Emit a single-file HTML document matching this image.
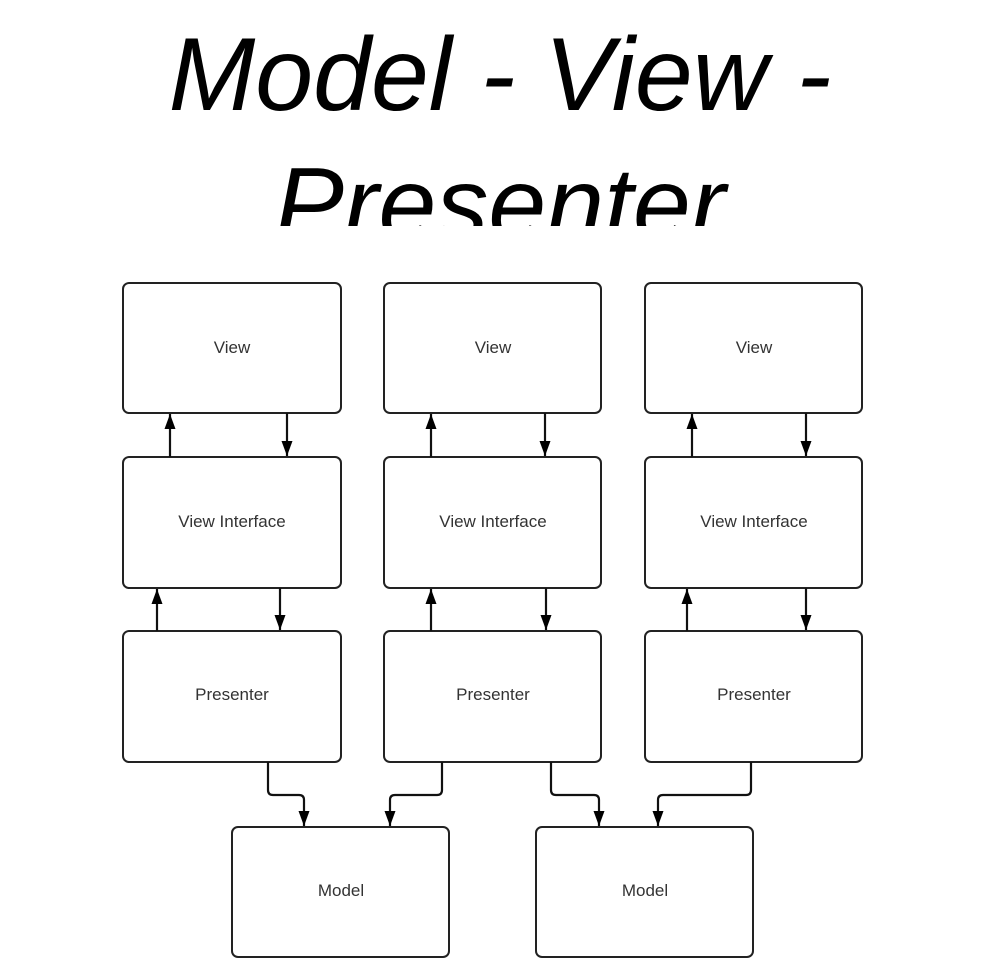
<!DOCTYPE html>
<html><head><meta charset="utf-8"><style>
html,body{margin:0;padding:0;background:#fff;width:1000px;height:974px;overflow:hidden}
.t{position:absolute;left:0;width:1000px;text-align:center;font-family:"Liberation Sans",sans-serif;font-style:italic;font-size:104px;line-height:130px;color:#000}
</style></head><body>
<div style="position:absolute;left:0;top:0;width:1000px;height:226px;overflow:hidden">
<div class="t" style="top:10px">Model - View -<br>Presenter</div>
</div>
<svg width="1000" height="974" style="position:absolute;left:0;top:0">
<defs>
<marker id="d" markerWidth="15" markerHeight="11" refX="15" refY="5.5" orient="auto" markerUnits="userSpaceOnUse" viewBox="0 0 15 11"><path d="M0,0 L15,5.5 L0,11z" fill="#000"/></marker></defs>
<g fill="#fff" stroke="#222" stroke-width="2">
<rect x="123" y="283" width="218" height="130" rx="6"/><rect x="384" y="283" width="217" height="130" rx="6"/><rect x="645" y="283" width="217" height="130" rx="6"/>
<rect x="123" y="457" width="218" height="131" rx="6"/><rect x="384" y="457" width="217" height="131" rx="6"/><rect x="645" y="457" width="217" height="131" rx="6"/>
<rect x="123" y="631" width="218" height="131" rx="6"/><rect x="384" y="631" width="217" height="131" rx="6"/><rect x="645" y="631" width="217" height="131" rx="6"/>
<rect x="232" y="827" width="217" height="130" rx="6"/><rect x="536" y="827" width="217" height="130" rx="6"/>
</g>
<g fill="none" stroke="#111" stroke-width="2.2" marker-end="url(#d)">
<path d="M170 457V414"/><path d="M287 413V456"/>
<path d="M157 631V589"/><path d="M280 588V630"/>
<path d="M431 457V414"/><path d="M545 413V456"/>
<path d="M431 631V589"/><path d="M546 588V630"/>
<path d="M692 457V414"/><path d="M806 413V456"/>
<path d="M687 631V589"/><path d="M806 588V630"/>
<path d="M268 762V790q0 5 5 5H299q5 0 5 5V826"/>
<path d="M442 762V790q0 5 -5 5H395q-5 0 -5 5V826"/>
<path d="M551 762V790q0 5 5 5H594q5 0 5 5V826"/>
<path d="M751 762V790q0 5 -5 5H663q-5 0 -5 5V826"/>
</g>
<g font-family="Liberation Sans,sans-serif" font-size="17" fill="#333" text-anchor="middle">
<text x="232" y="353">View</text><text x="493" y="353">View</text><text x="754" y="353">View</text>
<text x="232" y="527">View Interface</text><text x="493" y="527">View Interface</text><text x="754" y="527">View Interface</text>
<text x="232" y="700">Presenter</text><text x="493" y="700">Presenter</text><text x="754" y="700">Presenter</text>
<text x="341" y="896">Model</text><text x="645" y="896">Model</text>
</g>
</svg>
</body></html>
